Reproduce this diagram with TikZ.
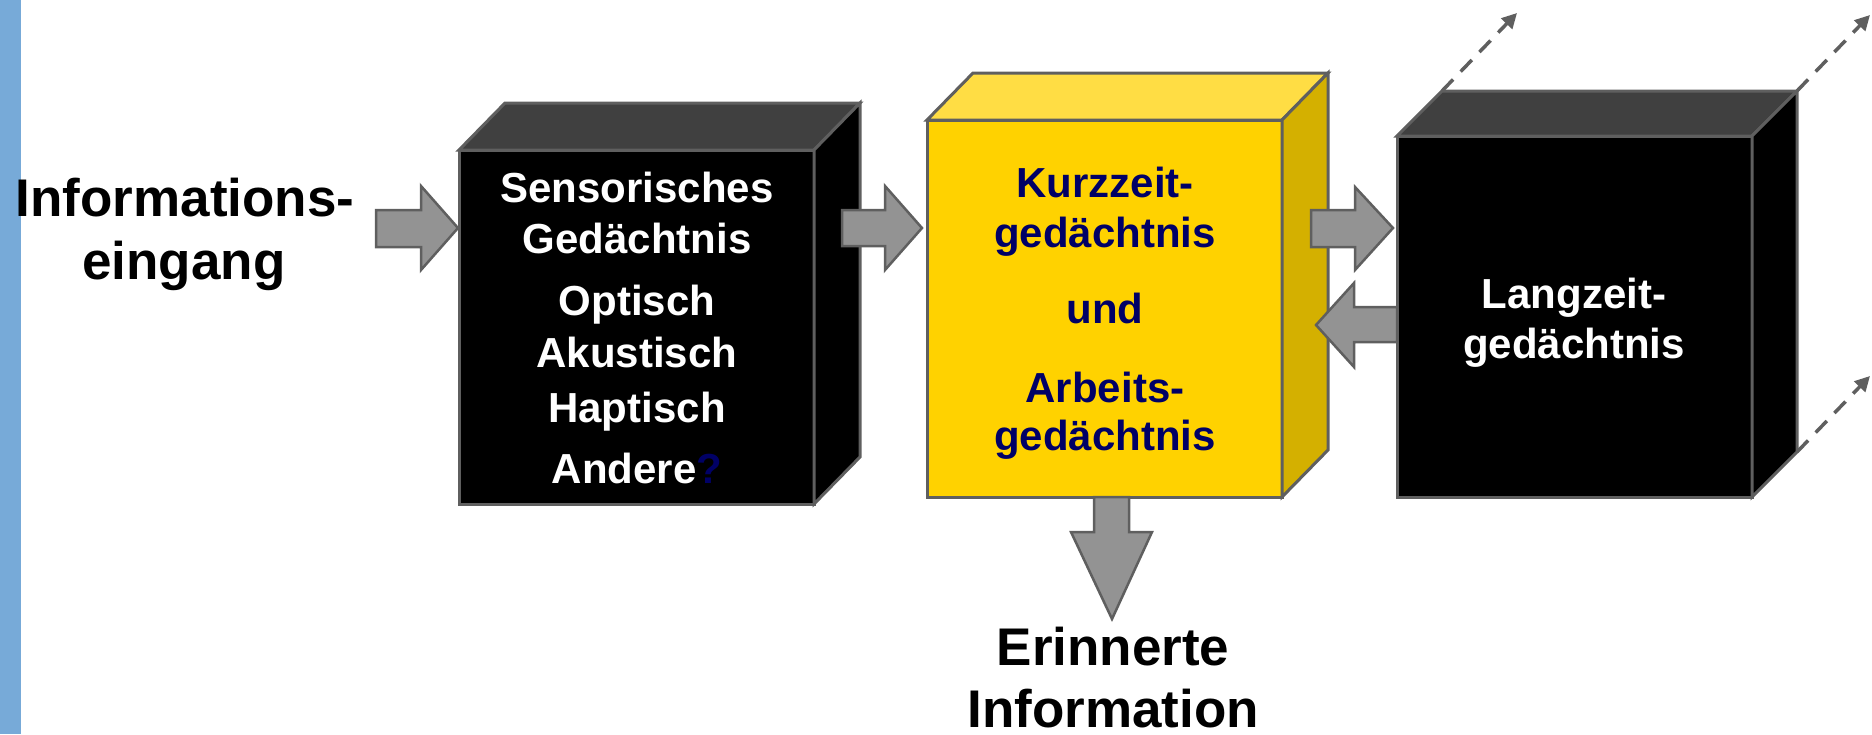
\documentclass[tikz,border=0pt]{standalone}
\usepackage{fontspec}
\setmainfont{Liberation Sans}
\usetikzlibrary{calc,arrows.meta}
\definecolor{barblue}{HTML}{77AAD8}
\definecolor{edge}{HTML}{5F5F5F}
\definecolor{arrgray}{HTML}{939393}
\definecolor{ydark}{HTML}{D4B000}
\definecolor{yfront}{HTML}{FFD200}
\definecolor{ytop}{HTML}{FFDD44}
\definecolor{btop}{HTML}{404040}
\definecolor{navy}{HTML}{000066}
\begin{document}
\begin{tikzpicture}[x=1pt,y=-1pt,
  face/.style={draw=edge,line width=3pt,line join=miter},
  front/.style={face,rectangle,inner sep=0pt,outer sep=0pt,minimum width=355pt},
  blockarrow/.style={draw=edge,fill=arrgray,line width=2.5pt},
  big/.style={font=\fontsize{53}{60}\selectfont\bfseries,anchor=base,inner sep=0pt,text=black},
  boxtext/.style={font=\fontsize{42}{48}\selectfont\bfseries,anchor=base,inner sep=0pt},
  dasharrow/.style={draw=edge,line width=3.5pt,dash pattern=on 16pt off 11pt,-{Triangle[length=15pt,width=15pt]}}]
\useasboundingbox (0,0) rectangle (1872,734);
\fill[barblue] (0,0) rectangle (21,734);

% Box 1: Sensorisches Gedaechtnis
\node[front,fill=black,minimum height=354pt] (sens) at (636.5,327) {};
\filldraw[face,fill=btop] (sens.north west) -- ++(46,-47) -- ($(sens.north east)+(46,-47)$) -- (sens.north east) -- cycle;
\filldraw[face,fill=black] (sens.north east) -- ++(46,-47) -- ($(sens.south east)+(46,-47)$) -- (sens.south east) -- cycle;

% Box 2: Kurzzeitgedaechtnis
\node[front,fill=yfront,minimum height=377pt] (kurz) at (1104.5,308.5) {};
\filldraw[face,fill=ytop] (kurz.north west) -- ++(46,-47) -- ($(kurz.north east)+(46,-47)$) -- (kurz.north east) -- cycle;
\filldraw[face,fill=ydark] (kurz.north east) -- ++(46,-47) -- ($(kurz.south east)+(46,-47)$) -- (kurz.south east) -- cycle;

% Box 3: Langzeitgedaechtnis
\node[front,fill=black,minimum height=361pt] (lang) at (1574.5,316.5) {};
\filldraw[face,fill=btop] (lang.north west) -- ++(45,-45) coordinate (ltl) -- ($(lang.north east)+(45,-45)$) coordinate (ltr) -- (lang.north east) -- cycle;
\filldraw[face,fill=black] (lang.north east) -- ++(45,-45) -- ($(lang.south east)+(45,-45)$) coordinate (lbr) -- (lang.south east) -- cycle;

% dashed arrows
\coordinate (d1) at (1517,13);
\coordinate (d2) at (1870,15);
\coordinate (d3) at (1870,376);
\draw[dasharrow] (ltl) -- (d1);
\draw[dasharrow] (ltr) -- (d2);
\draw[dasharrow] (lbr) -- (d3);

% block arrows
\filldraw[blockarrow] (376,210) -- (421,210) -- (421,186) -- (458,228) -- (421,270) -- (421,247) -- (376,247) -- cycle;
\filldraw[blockarrow] (842,210) -- (885,210) -- (885,186) -- (922,228) -- (885,270) -- (885,246) -- (842,246) -- cycle;
\filldraw[blockarrow] (1311,210) -- (1355,210) -- (1355,187) -- (1393,228) -- (1355,270) -- (1355,247) -- (1311,247) -- cycle;
\filldraw[blockarrow] (lang.west |- 0,307) -- (1354,307) -- (1354,283) -- (1316,325) -- (1354,367) -- (1354,342) -- (lang.west |- 0,342) -- cycle;
\filldraw[blockarrow] (1094,497) -- (1129,497) -- (1129,532) -- (1152,532) -- (1112,619) -- (1071,532) -- (1094,532) -- cycle;

% outer labels
\node[big] (in1) at (185,216) {Informations-};
\node[big] (in2) at (184,279) {eingang};
\node[big] (out1) at (1113,665) {Erinnerte};
\node[big] (out2) at (1113,727) {Information};

% box 1 text
\node[boxtext,text=white] (s1) at (637,202) {Sensorisches};
\node[boxtext,text=white] (s2) at (637,253) {Gedächtnis};
\node[boxtext,text=white] (s3) at (637,315) {Optisch};
\node[boxtext,text=white] (s4) at (637,367) {Akustisch};
\node[boxtext,text=white] (s5) at (637,422) {Haptisch};
\node[boxtext,text=white] (s6) at (637,483) {Andere\textcolor{navy}{?}};

% box 2 text
\node[boxtext,text=navy] (k1) at (1105,197) {Kurzzeit-};
\node[boxtext,text=navy] (k2) at (1105,247) {gedächtnis};
\node[boxtext,text=navy] (k3) at (1105,323) {und};
\node[boxtext,text=navy] (k4) at (1105,402) {Arbeits-};
\node[boxtext,text=navy] (k5) at (1105,450) {gedächtnis};

% box 3 text
\node[boxtext,text=white] (l1) at (1574,308) {Langzeit-};
\node[boxtext,text=white] (l2) at (1574,358) {gedächtnis};
\end{tikzpicture}
\end{document}
